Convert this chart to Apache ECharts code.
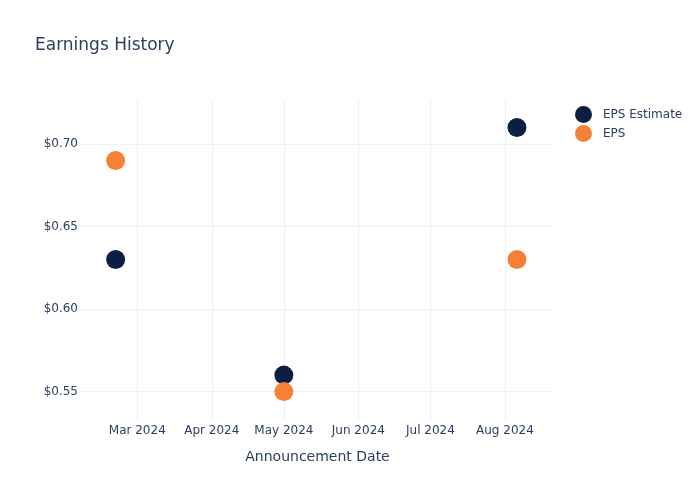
<!DOCTYPE html>
<html><head><meta charset="utf-8">
<script src="https://cdn.jsdelivr.net/npm/echarts@6/dist/echarts.min.js"></script>
<style>html,body{margin:0;padding:0;background:#fff}#c{width:700px;height:500px}</style>
</head><body><div id="c"></div>
<script>
const dates = ['2024-02-21', '2024-05-01', '2024-08-06'];
const epsEstimate = [0.63, 0.56, 0.71];
const eps = [0.69, 0.55, 0.63];
const xTicks = ['2024-03-01','2024-04-01','2024-05-01','2024-06-01','2024-07-01','2024-08-01'];
const yTicks = [0.55, 0.60, 0.65, 0.70];
const months = ['Jan','Feb','Mar','Apr','May','Jun','Jul','Aug','Sep','Oct','Nov','Dec'];
const ts = s => Date.parse(s + 'T00:00:00Z');
const font = 'DejaVu Sans, sans-serif';
const chart = echarts.init(document.getElementById('c'));
chart.setOption({
  animation: false,
  backgroundColor: '#fff',
  title: { text: 'Earnings History', left: 30, top: 32, textStyle: { fontFamily: font, fontSize: 17, fontWeight: 'normal', color: '#2a3f5f' } },
  legend: {
    orient: 'vertical', left: 570, top: 101, itemWidth: 17, itemHeight: 17, itemGap: 2,
    icon: 'circle',
    textStyle: { fontFamily: font, fontSize: 12, color: '#2a3f5f', padding: [0, 0, 0, 6] },
    data: ['EPS Estimate', 'EPS']
  },
  grid: { left: 82, right: 147, top: 100, bottom: 80 },
  xAxis: {
    type: 'value', min: ts('2024-02-07'), max: ts('2024-08-21'),
    name: 'Announcement Date', nameLocation: 'middle', nameGap: 30,
    nameTextStyle: { fontFamily: font, fontSize: 14, color: '#2a3f5f' },
    axisLine: { show: false }, axisTick: { show: false, customValues: xTicks.map(ts) },
    axisLabel: { customValues: xTicks.map(ts), fontFamily: font, fontSize: 12, color: '#2a3f5f', margin: 5,
      formatter: v => { const d = new Date(v); return months[d.getUTCMonth()] + ' ' + d.getUTCFullYear(); } },
    splitLine: { show: true, lineStyle: { color: '#ebf0f8', width: 1 } }
  },
  yAxis: {
    type: 'value', min: 0.5328, max: 0.7267,
    axisLine: { show: false }, axisTick: { show: false, customValues: yTicks },
    axisLabel: { customValues: yTicks, fontFamily: font, fontSize: 12, color: '#2a3f5f', margin: 4,
      formatter: v => '$' + v.toFixed(2) },
    splitLine: { show: true, lineStyle: { color: '#ebf0f8', width: 1 } }
  },
  series: [
    { name: 'EPS Estimate', type: 'scatter', symbolSize: 19, itemStyle: { color: '#0b1f42', opacity: 1 },
      data: dates.map((d, i) => [ts(d), epsEstimate[i]]) },
    { name: 'EPS', type: 'scatter', symbolSize: 19, itemStyle: { color: '#f68035', opacity: 1 },
      data: dates.map((d, i) => [ts(d), eps[i]]) }
  ]
});
</script></body></html>
